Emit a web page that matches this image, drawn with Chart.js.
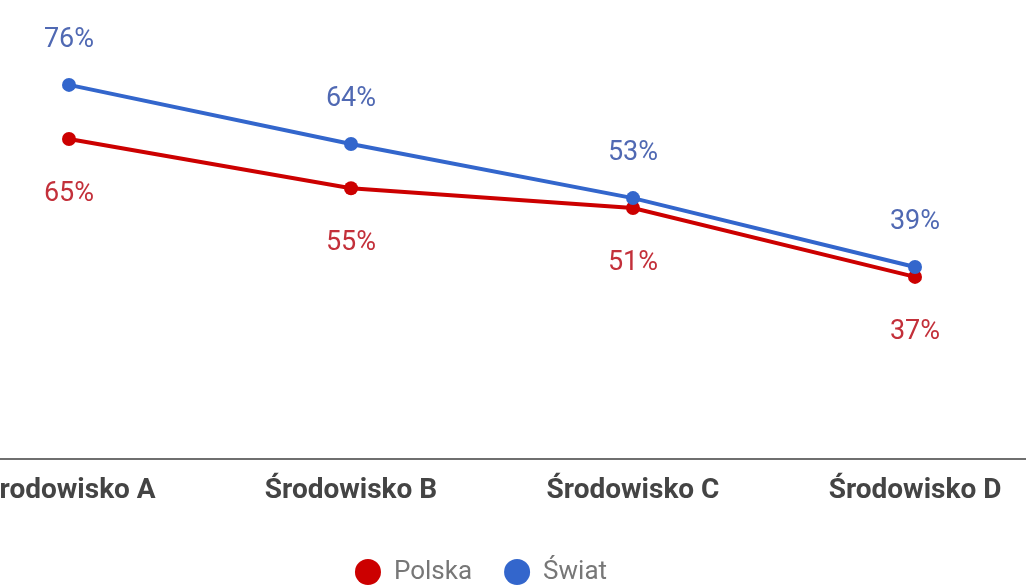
<!DOCTYPE html>
<html>
<head>
<meta charset="utf-8">
<script src="https://cdn.jsdelivr.net/npm/chart.js@4/dist/chart.umd.min.js"></script>
<style>
  html, body { margin: 0; padding: 0; background: #ffffff; overflow: hidden; width: 1026px; height: 586px; }
  #wrap { position: absolute; left: -94px; top: 0; width: 1150px; height: 595px; }
</style>
</head>
<body>
<div id="wrap"><canvas id="c" width="1150" height="595"></canvas></div>
<script>
const categories = ['Środowisko A', 'Środowisko B', 'Środowisko C', 'Środowisko D'];
const polska = [65, 55, 51, 37];
const swiat = [76, 64, 53, 39];
const seriesNames = ['Polska', 'Świat'];
const redColor = '#cc0000';
const blueColor = '#3366cc';

const valueLabels = {
  id: 'valueLabels',
  afterDatasetsDraw(chart) {
    const ctx = chart.ctx;
    ctx.save();
    ctx.font = '27px Roboto';
    ctx.textAlign = 'center';
    ctx.textBaseline = 'middle';
    chart.data.datasets.forEach((ds, i) => {
      const meta = chart.getDatasetMeta(i);
      meta.data.forEach((pt, j) => {
        ctx.fillStyle = ds.labelColor;
        ctx.fillText(ds.data[j] + '%', pt.x, pt.y + ds.labelOffset);
      });
    });
    ctx.restore();
  }
};

new Chart(document.getElementById('c'), {
  type: 'line',
  data: {
    labels: categories,
    datasets: [
      {
        label: seriesNames[0], data: polska, order: 1,
        borderColor: redColor, backgroundColor: redColor,
        pointBackgroundColor: redColor, pointBorderColor: redColor,
        borderWidth: 4, pointRadius: 7, pointBorderWidth: 0, tension: 0,
        labelColor: '#c3303a', labelOffset: 55
      },
      {
        label: seriesNames[1], data: swiat, order: 0,
        borderColor: blueColor, backgroundColor: blueColor,
        pointBackgroundColor: blueColor, pointBorderColor: blueColor,
        borderWidth: 4, pointRadius: 7, pointBorderWidth: 0, tension: 0,
        labelColor: '#5069b3', labelOffset: -45
      }
    ]
  },
  options: {
    responsive: false,
    animation: false,
    layout: { autoPadding: false, padding: { top: 16, left: 0, right: 0, bottom: 0 } },
    scales: {
      x: {
        offset: true,
        grid: { display: false, drawTicks: false },
        border: { display: true, color: '#6f6f6f', width: 2 },
        ticks: {
          color: '#444444', font: { family: 'Roboto', size: 28, weight: 'bold' },
          padding: 15, autoSkip: false, maxRotation: 0
        },
        afterFit(scale) { scale.height = 68; }
      },
      y: {
        min: 0, max: 90,
        display: true,
        grid: { display: false, drawTicks: false },
        border: { display: false },
        ticks: { display: false },
        afterFit(scale) { scale.width = 22; }
      }
    },
    plugins: {
      legend: {
        position: 'bottom',
        labels: {
          usePointStyle: true, pointStyle: 'circle',
          boxWidth: 26, boxHeight: 18.4, padding: 32,
          color: '#777777', font: { family: 'Roboto', size: 26 },
          sort: (a, b) => a.datasetIndex - b.datasetIndex
        }
      },
      tooltip: { enabled: false }
    }
  },
  plugins: [valueLabels]
});
</script>
</body>
</html>
